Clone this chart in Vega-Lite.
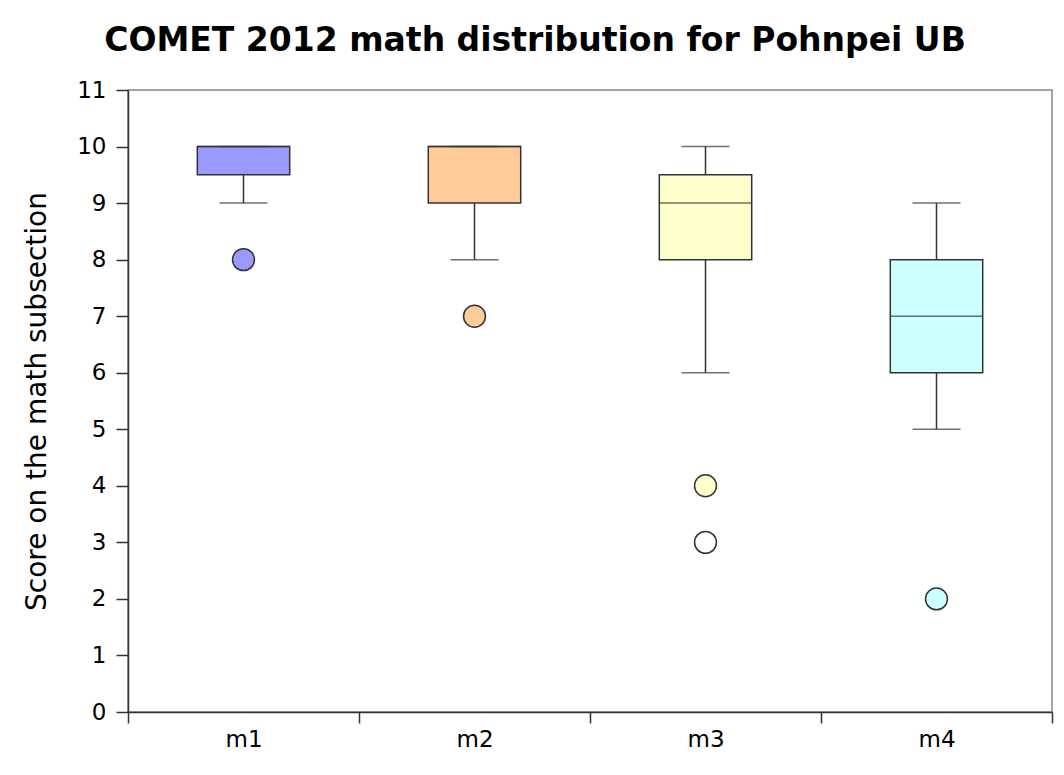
{
  "$schema": "https://vega.github.io/schema/vega-lite/v6.json",
  "width": 924,
  "height": 622,
  "autosize": {"type": "none"},
  "padding": {"left": 128, "top": 90, "right": 12, "bottom": 63},
  "background": "white",
  "title": {
    "text": "COMET 2012 math distribution for Pohnpei UB",
    "font": "DejaVu Sans",
    "fontSize": 33,
    "fontWeight": "bold",
    "color": "#000000",
    "anchor": "middle",
    "dx": -55,
    "offset": 21
  },
  "config": {
    "font": "DejaVu Sans",
    "view": {"stroke": "#888888", "strokeWidth": 1.5},
    "axis": {
      "labelFont": "DejaVu Sans",
      "titleFont": "DejaVu Sans",
      "labelColor": "#000000",
      "titleColor": "#000000",
      "domainColor": "#333333",
      "tickColor": "#333333",
      "domainWidth": 1.5,
      "tickWidth": 1.5,
      "grid": false
    }
  },
  "datasets": {
    "summary": [
      {"subsection": "m1", "lower": 9, "q1": 9.5, "median": 10, "q3": 10, "upper": 10},
      {"subsection": "m2", "lower": 8, "q1": 9, "median": 10, "q3": 10, "upper": 10},
      {"subsection": "m3", "lower": 6, "q1": 8, "median": 9, "q3": 9.5, "upper": 10},
      {"subsection": "m4", "lower": 5, "q1": 6, "median": 7, "q3": 8, "upper": 9}
    ],
    "outliers": [
      {"subsection": "m1", "score": 8, "kind": "outlier"},
      {"subsection": "m2", "score": 7, "kind": "outlier"},
      {"subsection": "m3", "score": 4, "kind": "outlier"},
      {"subsection": "m3", "score": 3, "kind": "extreme"},
      {"subsection": "m4", "score": 2, "kind": "outlier"}
    ]
  },
  "encoding": {
    "x": {
      "field": "subsection",
      "type": "nominal",
      "sort": ["m1", "m2", "m3", "m4"],
      "scale": {"domain": ["m1", "m2", "m3", "m4"], "paddingInner": 0, "paddingOuter": 0},
      "axis": {
        "title": null,
        "labelAngle": 0,
        "labelFontSize": 23,
        "labelPadding": 5,
        "tickSize": 11,
        "tickBand": "extent"
      }
    }
  },
  "layer": [
    {
      "data": {"name": "summary"},
      "mark": {"type": "rule", "color": "#333333", "strokeWidth": 1.5},
      "encoding": {
        "y": {
          "field": "lower",
          "type": "quantitative",
          "scale": {"domain": [0, 11], "nice": false},
          "axis": {
            "title": "Score on the math subsection",
            "titleFontSize": 28,
            "titleFontWeight": "normal",
            "titlePadding": 25,
            "labelFontSize": 23,
            "labelPadding": 10,
            "tickSize": 12,
            "format": "d",
            "values": [0, 1, 2, 3, 4, 5, 6, 7, 8, 9, 10, 11]
          }
        },
        "y2": {"field": "upper"}
      }
    },
    {
      "data": {"name": "summary"},
      "mark": {"type": "bar", "width": {"band": 0.4}, "stroke": "#333333", "strokeWidth": 1.5},
      "encoding": {
        "y": {"field": "q1", "type": "quantitative"},
        "y2": {"field": "q3"},
        "fill": {
          "field": "subsection",
          "type": "nominal",
          "scale": {"domain": ["m1", "m2", "m3", "m4"], "range": ["#9999ff", "#ffcc99", "#ffffcc", "#ccffff"]},
          "legend": null
        }
      }
    },
    {
      "data": {"name": "summary"},
      "mark": {"type": "tick", "color": "#333333", "size": 92, "thickness": 1.5},
      "encoding": {"y": {"field": "median", "type": "quantitative"}}
    },
    {
      "data": {"name": "summary"},
      "mark": {"type": "tick", "color": "#333333", "size": 48, "thickness": 1.5},
      "encoding": {"y": {"field": "lower", "type": "quantitative"}}
    },
    {
      "data": {"name": "summary"},
      "mark": {"type": "tick", "color": "#333333", "size": 48, "thickness": 1.5},
      "encoding": {"y": {"field": "upper", "type": "quantitative"}}
    },
    {
      "data": {"name": "outliers"},
      "mark": {"type": "point", "shape": "circle", "filled": true, "size": 480, "stroke": "#333333", "strokeWidth": 1.5, "opacity": 1},
      "encoding": {
        "y": {"field": "score", "type": "quantitative"},
        "fill": {
          "condition": {"test": "datum.kind === 'extreme'", "value": "#ffffff"},
          "field": "subsection",
          "type": "nominal",
          "legend": null
        }
      }
    }
  ]
}
